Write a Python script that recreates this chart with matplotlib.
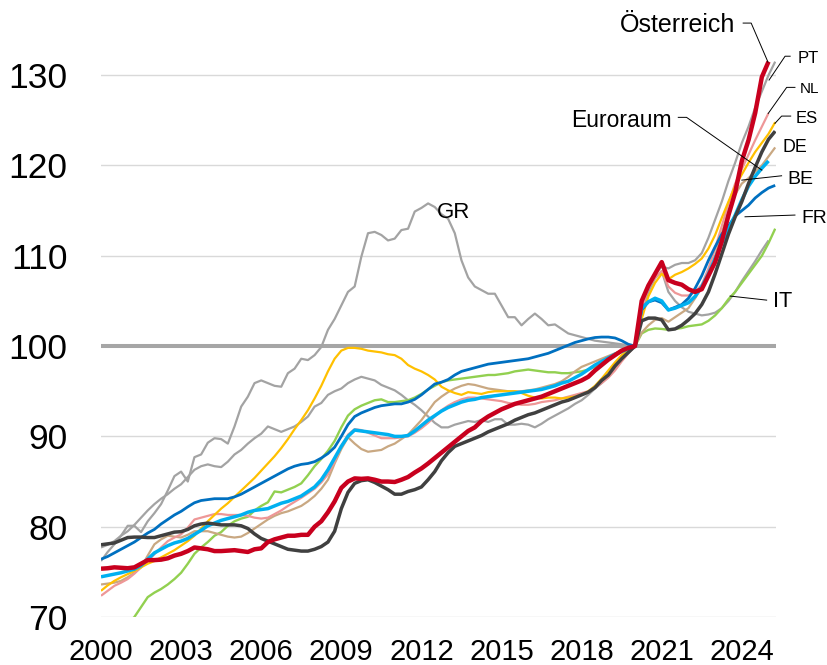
"""
Preisindizes im Euroraum, 2020 = 100, vierteljährlich.
"""

import numpy as np
import matplotlib
matplotlib.use("Agg")
import matplotlib.pyplot as plt

plt.rcParams["font.family"] = ["Liberation Sans", "DejaVu Sans"]

nan = np.nan

# Quartale 2000 Q1 bis 2025 Q2
quarters = [2000 + q / 4 for q in range(102)]

year_ticks = [2000, 2003, 2006, 2009, 2012, 2015, 2018, 2021, 2024]
year_labels = [str(y) for y in year_ticks]
value_ticks = [70, 80, 90, 100, 110, 120, 130]

at_values = [
    75.35, 75.4, 75.5, 75.45,  # 2000
    75.4, 75.5, 75.9, 76.3,
    76.3, 76.35, 76.5, 76.8,
    77.0, 77.3, 77.7, 77.6,
    77.5, 77.3, 77.3, 77.35,
    77.4, 77.3, 77.2, 77.5,  # 2005
    77.6, 78.3, 78.6, 78.8,
    79.0, 79.0, 79.1, 79.1,
    80.0, 80.6, 81.6, 82.8,
    84.3, 85.0, 85.35, 85.3,
    85.35, 85.2, 85.0, 85.0,  # 2010
    84.95, 85.2, 85.5, 86.0,
    86.45, 87.0, 87.6, 88.2,
    88.8, 89.4, 90.0, 90.6,
    91.0, 91.7, 92.2, 92.6,
    93.0, 93.3, 93.6, 93.8,  # 2015
    94.0, 94.2, 94.4, 94.7,
    95.0, 95.3, 95.6, 95.9,
    96.2, 96.6, 97.3, 97.9,
    98.5, 99.0, 99.5, 99.8,
    100.0, 105.0, 106.7, 108.0,  # 2020
    109.3, 107.3, 107.0, 106.8,
    106.3, 106.0, 106.3, 107.8,
    109.3, 111.6, 114.5, 117.0,
    120.5, 122.8, 125.8, 129.8,
    131.5, nan,  # 2025
]

pt_values = [
    77.7, 78.0, 78.4, 79.0,
    79.5, 80.2, 81.0, 81.8,
    82.5, 83.1, 83.6, 84.2,
    84.7, 85.5, 86.3, 86.7,
    86.9, 86.7, 86.6, 87.2,
    88.0, 88.5, 89.2, 89.8,
    90.3, 91.1, 90.8, 90.5,
    90.8, 91.1, 91.6, 92.2,
    93.3, 93.7, 94.6, 95.0,
    95.3, 95.9, 96.3, 96.6,
    96.4, 96.2, 95.7, 95.4,
    95.1, 94.6, 94.0, 93.5,
    92.9, 92.2, 91.5, 91.0,
    91.0, 91.3, 91.5, 91.7,
    91.6, 91.8, 91.6, 91.9,
    91.9, 91.3, 91.3, 91.4,
    91.3, 91.0, 91.4, 91.9,
    92.3, 92.7, 93.1, 93.6,
    94.0, 94.6, 95.3, 95.9,
    96.6, 97.6, 98.6, 99.4,
    100.0, 104.0, 106.3, 108.0,
    108.8, 108.6, 109.0, 109.2,
    109.2, 109.5, 110.3, 112.0,
    114.0, 116.0, 118.3, 120.3,
    122.5, 124.3, 126.4, 128.2,
    130.0, 131.5,
]

nl_values = [
    72.35, 72.9, 73.45, 73.8,
    74.2, 74.8, 75.5, 76.2,
    76.95, 77.7, 78.4, 78.8,
    79.15, 79.9, 80.8, 81.0,
    81.2, 81.4, 81.4, 81.3,
    81.3, 81.3, 81.2, 81.0,
    80.9, 81.0, 81.4, 81.8,
    82.3, 82.75, 83.2, 83.7,
    84.2, 84.9, 85.8, 87.2,
    88.9, 90.2, 90.8, 90.7,
    90.4, 90.1, 89.8, 89.8,
    89.8, 89.9, 90.0, 90.4,
    90.9, 91.5, 92.2, 92.9,
    93.4, 93.8, 94.1, 94.3,
    94.3, 94.2, 94.1, 94.0,
    93.9, 93.7, 93.6, 93.5,
    93.5, 93.6, 93.8, 93.9,
    94.0, 94.2, 94.4, 94.6,
    94.8, 95.0, 95.4, 95.9,
    96.5, 97.3, 98.3, 99.2,
    100.0, 104.0, 106.5, 107.6,
    108.3, 106.6, 105.9, 105.6,
    105.6, 106.0, 106.8, 108.6,
    110.8, 113.3, 115.8, 118.0,
    119.6, 121.2, 122.8, 124.3,
    125.8, nan,
]

es_values = [
    72.9, 73.5, 74.0, 74.4,
    74.75, 75.1, 75.5, 75.9,
    76.2, 76.6, 77.0, 77.4,
    77.9, 78.4, 79.0, 79.8,
    80.6, 81.3, 82.0, 82.6,
    83.3, 84.0, 84.7, 85.4,
    86.2, 87.0, 87.8, 88.7,
    89.7, 90.8, 91.8, 92.9,
    94.2, 95.6, 97.2, 98.6,
    99.5, 99.8, 99.8, 99.7,
    99.5, 99.4, 99.3, 99.1,
    99.0, 98.6, 97.9, 97.5,
    97.2, 96.8, 96.3, 95.5,
    95.1, 94.8, 94.6, 94.9,
    94.8, 94.7, 94.9, 95.0,
    95.0, 95.0, 95.0, 94.8,
    94.5, 94.3, 94.2, 94.3,
    94.3, 94.2, 94.3, 94.4,
    94.6, 95.0, 95.6, 96.4,
    97.3, 98.2, 99.0, 99.6,
    100.0, 103.0, 105.5, 107.0,
    108.0, 107.4, 107.9, 108.2,
    108.6, 109.1, 109.7, 110.8,
    112.3, 114.2, 116.0, 117.7,
    119.0, 120.3, 121.5, 122.5,
    123.5, 124.8,
]

de_values = [
    78.0, 78.1, 78.2, 78.5,
    78.8, 78.85, 78.85, 78.8,
    78.8, 79.0, 79.2, 79.4,
    79.45, 79.7, 80.1, 80.3,
    80.4, 80.3, 80.2, 80.2,
    80.2, 80.1, 79.8, 79.2,
    78.7, 78.4, 78.1, 77.8,
    77.5, 77.4, 77.3, 77.3,
    77.5, 77.8, 78.3, 79.5,
    82.0, 83.8, 84.8, 85.1,
    85.2, 84.9, 84.5, 84.1,
    83.6, 83.6, 83.9, 84.1,
    84.4, 85.2, 86.1, 87.3,
    88.2, 88.9, 89.2, 89.5,
    89.8, 90.1, 90.5, 90.8,
    91.1, 91.4, 91.8, 92.1,
    92.4, 92.6, 92.9, 93.2,
    93.5, 93.8, 94.0, 94.3,
    94.6, 94.9, 95.4, 96.2,
    96.8, 97.8, 98.6, 99.3,
    100.0, 102.8, 103.1, 103.1,
    102.9, 101.8, 101.9, 102.3,
    102.9, 103.6, 104.6, 106.0,
    108.0, 110.2, 112.4, 114.3,
    116.0, 118.0, 119.8, 121.5,
    122.9, 123.8,
]

be_values = [
    73.6, 73.7, 73.8, 74.0,
    74.4, 74.9, 75.5, 76.8,
    78.05, 78.6, 79.0, 78.9,
    78.8, 79.1, 79.5, 79.5,
    79.5, 79.3, 79.1, 78.9,
    78.8, 78.9, 79.3, 79.8,
    80.3, 80.8, 81.2, 81.5,
    81.7, 82.0, 82.3, 82.8,
    83.4, 84.2, 85.2, 87.0,
    88.6, 89.9, 89.2, 88.6,
    88.3, 88.4, 88.5, 88.9,
    89.2, 89.7, 90.2, 91.0,
    91.8, 92.8, 93.8, 94.4,
    94.9, 95.3, 95.6, 95.8,
    95.7, 95.5, 95.3, 95.2,
    95.1, 95.0, 95.0, 95.0,
    95.1, 95.2, 95.4, 95.6,
    95.8, 96.1, 96.6, 97.2,
    97.7, 98.0, 98.3, 98.6,
    98.9, 99.2, 99.5, 99.7,
    100.0, 101.5, 102.3, 102.9,
    103.1, 102.7, 103.2, 103.7,
    104.2, 105.3, 106.5, 108.1,
    110.0, 112.5, 115.0, 116.8,
    118.0, 118.6, 119.3, 120.0,
    121.0, 122.0,
]

ea_values = [
    74.45, 74.6, 74.75, 74.9,
    75.1, 75.3, 75.7, 76.4,
    77.1, 77.5, 77.9, 78.2,
    78.4, 78.7, 79.15, 79.6,
    80.1, 80.4, 80.7, 80.9,
    81.1, 81.3, 81.6, 81.8,
    81.9, 82.0, 82.3, 82.6,
    82.8, 83.1, 83.4, 83.9,
    84.4, 85.2, 86.3, 87.6,
    88.9, 90.0, 90.7, 90.6,
    90.5, 90.4, 90.3, 90.2,
    90.0, 90.0, 90.1, 90.6,
    91.2, 91.8, 92.3, 92.8,
    93.2, 93.5, 93.8, 94.0,
    94.1, 94.3, 94.4, 94.5,
    94.6, 94.7, 94.8, 94.9,
    95.0, 95.1, 95.2, 95.4,
    95.6, 95.9, 96.1, 96.5,
    96.9, 97.4, 97.9, 98.3,
    98.7, 99.1, 99.4, 99.7,
    100.0, 104.2, 104.9, 105.3,
    105.0, 104.0, 104.2, 104.5,
    104.8, 105.5, 106.6, 108.0,
    109.7, 111.4, 112.9, 114.5,
    116.2, 117.7, 118.8, 119.7,
    120.5, nan,
]

fr_values = [
    76.4, 76.7, 77.1, 77.5,
    77.9, 78.3, 78.8, 79.3,
    79.7, 80.3, 80.8, 81.3,
    81.7, 82.2, 82.65, 82.9,
    83.0, 83.1, 83.1, 83.1,
    83.3, 83.6, 84.0, 84.4,
    84.8, 85.2, 85.6, 86.0,
    86.4, 86.7, 86.9, 87.0,
    87.2, 87.6, 88.1, 88.8,
    90.0, 91.3, 92.2, 92.6,
    92.9, 93.2, 93.4, 93.5,
    93.6, 93.6, 93.8, 94.1,
    94.6, 95.2, 95.8, 96.0,
    96.3, 96.8, 97.2, 97.4,
    97.6, 97.8, 98.0, 98.1,
    98.2, 98.3, 98.4, 98.5,
    98.6, 98.8, 99.0, 99.2,
    99.5, 99.8, 100.1, 100.4,
    100.6, 100.8, 100.95, 101.0,
    101.0, 100.9, 100.6, 100.2,
    100.0, 104.0, 104.9, 105.1,
    104.8, 104.0, 104.3, 104.6,
    105.3, 106.4, 107.8, 109.5,
    111.0, 112.4, 113.3, 114.4,
    115.0, 115.6, 116.4, 117.0,
    117.5, 117.8,
]

it_values = [
    67.0, 67.5, 68.2, 68.8,
    69.3, 70.0, 71.1, 72.2,
    72.7, 73.1, 73.6, 74.2,
    74.9, 75.9, 77.0, 77.7,
    78.3, 79.0, 79.4, 80.1,
    80.6, 80.9, 81.1, 81.8,
    82.3, 82.7, 83.9, 83.8,
    84.1, 84.4, 84.8, 85.7,
    86.7, 87.5, 88.4, 89.5,
    91.0, 92.3, 93.0, 93.4,
    93.7, 94.0, 94.1, 93.8,
    93.8, 93.9, 94.0, 94.3,
    94.7, 95.2, 95.6, 96.0,
    96.2, 96.3, 96.4, 96.5,
    96.6, 96.7, 96.8, 96.8,
    96.9, 97.0, 97.2, 97.3,
    97.4, 97.3, 97.2, 97.1,
    97.1, 97.0, 97.0, 97.1,
    97.2, 97.4, 97.7, 98.1,
    98.6, 99.1, 99.5, 99.8,
    100.0, 101.4, 101.8, 101.95,
    101.9, 101.8, 101.9, 102.0,
    102.2, 102.3, 102.4, 102.8,
    103.4, 104.2, 105.2, 106.0,
    107.0, 108.0, 109.0, 110.0,
    111.4, 113.0,
]

gr_values = [
    76.2, 77.2, 78.05, 79.0,
    80.1, 80.1, 79.4, 80.6,
    81.5, 82.5, 84.0, 85.6,
    86.1, 85.0, 87.7, 88.0,
    89.3, 89.8, 89.7, 89.2,
    91.1, 93.3, 94.4, 95.9,
    96.2, 95.9, 95.6, 95.5,
    97.0, 97.5, 98.6, 98.45,
    99.0, 99.9, 101.8, 103.0,
    104.5, 106.0, 106.6, 109.9,
    112.5, 112.65, 112.3, 111.7,
    111.9, 112.85, 113.0, 114.9,
    115.3, 115.8, 115.4, 114.6,
    114.1, 112.5, 109.5, 107.6,
    106.6, 106.2, 105.8, 105.8,
    104.5, 103.2, 103.2, 102.3,
    103.0, 103.6, 103.0, 102.3,
    102.4, 101.9, 101.4, 101.2,
    101.0, 100.8, 100.6, 100.5,
    100.4, 100.3, 100.2, 100.1,
    100.0, 104.0, 106.0, 107.5,
    108.3, 106.0, 105.0, 104.3,
    103.8, 103.6, 103.4, 103.5,
    103.7, 104.2, 105.0, 106.0,
    107.2, 108.3, 109.4, 110.6,
    111.7, nan,
]

# Zeichenreihenfolge: Österreich zuletzt, also oben
series = [
    (gr_values, "#A3A3A3", 1.6),
    (pt_values, "#A3A3A3", 1.6),
    (it_values, "#92D050", 1.7),
    (be_values, "#C9A882", 1.6),
    (nl_values, "#EE9797", 1.6),
    (es_values, "#FFC000", 1.6),
    (fr_values, "#0070C0", 2.0),
    (ea_values, "#00B0F0", 2.5),
    (de_values, "#404040", 2.5),
    (at_values, "#C8001E", 3.2),
]

# Beschriftungen: Text, x, y, Ausrichtung, Schriftgröße, Führungslinie
labels = [
    ("Österreich", 2023.75, 134.74, "right", 18,
     [(2024.05, 135.77), (2024.35, 135.77), (2024.98, 131.45)]),
    ("PT", 2026.10, 131.39, "left", 12,
     [(2025.81, 132.1), (2025.62, 132.1), (2025.02, 129.46)]),
    ("NL", 2026.18, 127.98, "left", 11,
     [(2025.99, 128.65), (2025.68, 128.65), (2024.99, 125.77)]),
    ("ES", 2026.03, 124.73, "left", 12,
     [(2025.83, 125.47), (2025.49, 125.47), (2025.24, 124.66)]),
    ("DE", 2025.53, 121.52, "left", 12.8, []),
    ("Euroraum", 2021.37, 124.22, "right", 16.5,
     [(2021.62, 125.33), (2021.93, 125.33), (2024.75, 119.49)]),
    ("BE", 2025.72, 117.9, "left", 14,
     [(2025.49, 118.86), (2024.00, 118.38)]),
    ("FR", 2026.22, 113.65, "left", 13.8,
     [(2025.99, 114.51), (2024.12, 114.32)]),
    ("IT", 2025.18, 104.35, "left", 15.7,
     [(2024.93, 105.09), (2023.56, 105.54)]),
    ("GR", 2013.2, 114.14, "center", 16, []),
]

fig = plt.figure(figsize=(8.28, 6.65), dpi=100)
ax = fig.add_axes([101 / 828, 48 / 665, 675 / 828, 596 / 665])

for value in value_ticks:
    if value == 100:
        ax.axhline(value, color="#A6A6A6", lw=2.9, zorder=1.5)
    else:
        ax.axhline(value, color="#D9D9D9", lw=1.0, zorder=1)

for values, color, width in series:
    ax.plot(quarters, values, color=color, lw=width,
            solid_joinstyle="round", solid_capstyle="butt", zorder=3)

for text, tx, ty, align, size, leader in labels:
    ax.text(tx, ty, text, ha=align, va="baseline", fontsize=size,
            color="black", clip_on=False, zorder=5)
    if leader:
        lx, ly = zip(*leader)
        ax.plot(lx, ly, color="black", lw=0.7, clip_on=False, zorder=4)

ax.set_xlim(2000, 2025.28)
ax.set_ylim(70, 136)
ax.set_xticks(year_ticks)
ax.set_xticklabels(year_labels)
ax.set_yticks(value_ticks)
ax.tick_params(axis="x", length=0, labelsize=21, pad=15)
ax.tick_params(axis="y", length=0, labelsize=25.5, pad=24)
for spine in ax.spines.values():
    spine.set_visible(False)

fig.savefig("out.png", dpi=100)
